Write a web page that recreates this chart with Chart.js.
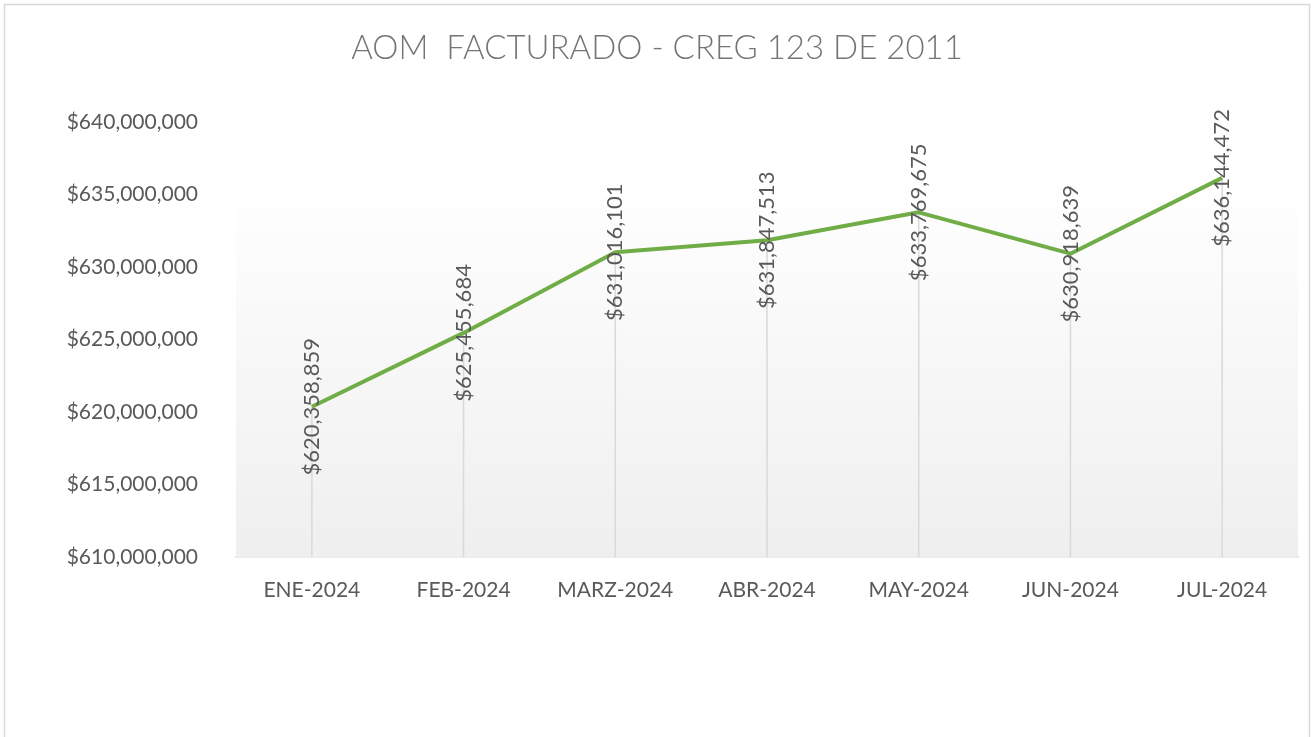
<!DOCTYPE html>
<html>
<head>
<meta charset="utf-8">
<script src="https://cdn.jsdelivr.net/npm/chart.js@4/dist/chart.umd.min.js"></script>
<style>
  html, body { margin: 0; padding: 0; background: #fff; }
  #wrap { width: 1315px; height: 737px; }
</style>
</head>
<body>
<div id="wrap"><canvas id="aomChart" width="1315" height="737"></canvas></div>
<script>
var chartTitle = 'AOM  FACTURADO - CREG 123 DE 2011';
var months = ['ENE-2024', 'FEB-2024', 'MARZ-2024', 'ABR-2024', 'MAY-2024', 'JUN-2024', 'JUL-2024'];
var facturado = [620358859, 625455684, 631016101, 631847513, 633769675, 630918639, 636144472];
var yMin = 610000000;
var yMax = 640000000;
var yStep = 5000000;

function money(v) {
  return '$' + Math.round(v).toLocaleString('en-US');
}

// border, title, gradient block, drop lines and labels
var excelLook = {
  id: 'excelLook',
  beforeDraw: function (chart) {
    var ctx = chart.ctx;
    ctx.save();
    ctx.strokeStyle = '#d9d9d9';
    ctx.lineWidth = 1.5;
    ctx.strokeRect(4.5, 4.5, 1305, 760);
    ctx.fillStyle = '#757575';
    ctx.font = '300 33px Lato';
    ctx.textAlign = 'center';
    ctx.textBaseline = 'middle';
    ctx.fillText(chartTitle, 657, 48);
    ctx.restore();
  },
  beforeDatasetsDraw: function (chart) {
    var ctx = chart.ctx;
    var area = chart.chartArea;
    var y = chart.scales.y;
    var top = y.getPixelForValue(Math.max.apply(null, facturado));
    var grad = ctx.createLinearGradient(0, top, 0, area.bottom);
    grad.addColorStop(0, '#ffffff');
    grad.addColorStop(1, '#efefef');
    ctx.save();
    ctx.fillStyle = grad;
    ctx.fillRect(area.left, top, area.right - area.left, area.bottom - top);
    var meta = chart.getDatasetMeta(0);
    ctx.strokeStyle = '#d9d9d9';
    ctx.lineWidth = 1.5;
    meta.data.forEach(function (pt) {
      ctx.beginPath();
      ctx.moveTo(pt.x, pt.y);
      ctx.lineTo(pt.x, area.bottom);
      ctx.stroke();
    });
    ctx.restore();
  },
  afterDatasetsDraw: function (chart) {
    var ctx = chart.ctx;
    var meta = chart.getDatasetMeta(0);
    ctx.save();
    ctx.fillStyle = '#595959';
    ctx.font = '22px Lato';
    ctx.textAlign = 'center';
    ctx.textBaseline = 'middle';
    meta.data.forEach(function (pt, i) {
      ctx.save();
      ctx.translate(pt.x, pt.y);
      ctx.rotate(-Math.PI / 2);
      ctx.fillText(money(facturado[i]), 0, 0);
      ctx.restore();
    });
    ctx.restore();
  }
};

new Chart(document.getElementById('aomChart').getContext('2d'), {
  type: 'line',
  data: {
    labels: months,
    datasets: [{
      data: facturado,
      borderColor: '#70ad47',
      backgroundColor: 'transparent',
      borderWidth: 4,
      pointRadius: 0,
      pointHoverRadius: 0,
      fill: false,
      tension: 0,
      borderJoinStyle: 'round'
    }]
  },
  options: {
    responsive: false,
    animation: false,
    events: [],
    layout: { padding: { top: 122, right: 17, bottom: 0, left: 0 } },
    plugins: {
      legend: { display: false },
      tooltip: { enabled: false }
    },
    scales: {
      x: {
        offset: true,
        grid: { display: false },
        border: { display: true, color: '#d9d9d9', width: 1.5 },
        ticks: { color: '#595959', font: { family: 'Lato', size: 21 }, padding: 13, maxRotation: 0 },
        afterFit: function (scale) { scale.height = 180; }
      },
      y: {
        min: yMin,
        max: yMax,
        grid: { display: false },
        border: { display: false },
        ticks: {
          stepSize: yStep,
          color: '#595959',
          font: { family: 'Lato', size: 21 },
          padding: 30,
          callback: function (v) { return money(v); }
        },
        afterFit: function (scale) { scale.width = 236; }
      }
    }
  },
  plugins: [excelLook]
});
</script>
</body>
</html>
